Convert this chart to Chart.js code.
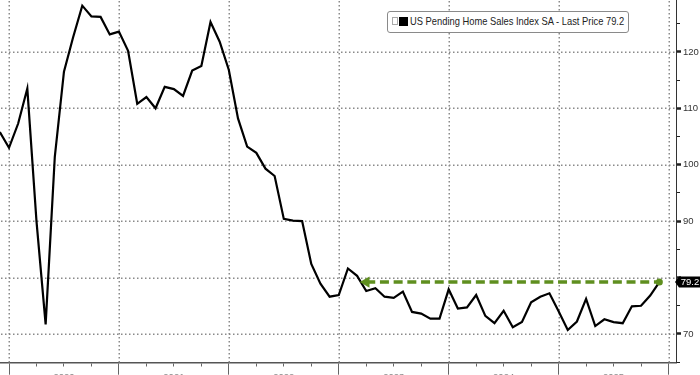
<!DOCTYPE html>
<html lang="en">
<head>
<meta charset="UTF-8">
<title>US Pending Home Sales Index</title>
<script src="https://cdn.jsdelivr.net/npm/chart.js"></script>
<style>
  html, body { margin: 0; padding: 0; background: #fff; }
  #wrap { position: relative; width: 700px; height: 375px; overflow: hidden; }
  #chart { display: block; }
  #legend {
    position: absolute; left: 387px; top: 11px; width: 240px; height: 20px;
    border: 1px solid #8a8a8a; border-radius: 3px; background: #fff;
    font-family: "Liberation Sans", Arial, sans-serif; font-size: 11px; color: #222;
    white-space: nowrap;
  }
  #legend .mini { position: absolute; left: 4px; top: 5px; width: 4px; height: 6px; border: 1px solid #aaa; }
  #legend .swatch { position: absolute; left: 11px; top: 5px; width: 9px; height: 9px; background: #000; }
  #legend .txt { position: absolute; left: 22px; top: 3px; transform: scaleX(0.85); transform-origin: left center; }
</style>
</head>
<body>
<div id="wrap">
  <canvas id="chart" width="700" height="375"></canvas>
  <div id="legend"><span class="mini"></span><span class="swatch"></span><span class="txt" id="legendText"></span></div>
</div>
<script>
    // monthly index values, Nov 2019 .. Nov 2025
    const months = [
        '2019-11', '2019-12',
        '2020-01', '2020-02', '2020-03', '2020-04', '2020-05', '2020-06', '2020-07', '2020-08', '2020-09', '2020-10', '2020-11', '2020-12',
        '2021-01', '2021-02', '2021-03', '2021-04', '2021-05', '2021-06', '2021-07', '2021-08', '2021-09', '2021-10', '2021-11', '2021-12',
        '2022-01', '2022-02', '2022-03', '2022-04', '2022-05', '2022-06', '2022-07', '2022-08', '2022-09', '2022-10', '2022-11', '2022-12',
        '2023-01', '2023-02', '2023-03', '2023-04', '2023-05', '2023-06', '2023-07', '2023-08', '2023-09', '2023-10', '2023-11', '2023-12',
        '2024-01', '2024-02', '2024-03', '2024-04', '2024-05', '2024-06', '2024-07', '2024-08', '2024-09', '2024-10', '2024-11', '2024-12',
        '2025-01', '2025-02', '2025-03', '2025-04', '2025-05', '2025-06', '2025-07', '2025-08', '2025-09', '2025-10', '2025-11'
    ];
    const pendingSales = [
        105.8, 103.0,
        107.3, 113.5, 90.0, 71.7, 101.4, 116.5, 122.6, 128.2, 126.3, 126.2, 123.1, 123.6,
        120.2, 110.8, 112.0, 110.0, 113.8, 113.4, 112.2, 116.7, 117.5, 125.3, 121.8, 116.8,
        108.2, 103.2, 102.1, 99.3, 98.0, 90.4, 90.1, 90.0, 82.4, 78.9, 76.6, 76.9,
        81.6, 80.3, 77.6, 78.1, 76.6, 76.4, 77.5, 73.9, 73.6, 72.7, 72.7, 77.9,
        74.5, 74.7, 76.9, 73.2, 71.9, 74.1, 71.2, 72.1, 75.6, 76.6, 77.2, 74.0,
        70.7, 72.2, 76.2, 71.4, 72.6, 72.1, 71.9, 74.9, 75.0, 76.8, 79.2
    ];
    const yearLabels = ['2020', '2021', '2022', '2023', '2024', '2025'];
    const seriesName = 'US Pending Home Sales Index SA';
    const arrowFrom = '2023-03';
    const arrowTo = '2025-11';

    const lastPrice = pendingSales[pendingSales.length - 1];
    const green = '#5f8f1f';

    // month string -> months since Jan 1 2020, plotted at month end
    const toX = s => (parseInt(s.slice(0, 4)) - 2020) * 12 + parseInt(s.slice(5, 7));
    const series = months.map((m, i) => ({ x: toX(m), y: pendingSales[i] }));
    const arrow = [{ x: toX(arrowFrom), y: lastPrice }, { x: toX(arrowTo), y: lastPrice }];

    document.getElementById('legendText').textContent = seriesName + ' - Last Price ' + lastPrice.toFixed(1);

    const pxPerMonth = 9.16;
    const axisFont = { family: '"Liberation Sans", Arial, sans-serif', size: 9.5 };
    const isYearTick = v => v % 12 === 0;
    const isMajorY = v => v % 10 === 0;

    // dotted grid on years and every 10 index points
    const dottedGrid = {
        id: 'dottedGrid',
        beforeDatasetsDraw(chart) {
            const { ctx, chartArea: a } = chart;
            const { x, y } = chart.scales;
            ctx.save();
            ctx.fillStyle = '#8a8a8a';
            // square dots every 4px
            x.ticks.filter(t => isYearTick(t.value)).forEach(t => {
                const px = Math.round(x.getPixelForValue(t.value));
                for (let py = a.top + 1; py < a.bottom; py += 4) ctx.fillRect(px - 0.5, py, 1.5, 1.5);
            });
            y.ticks.filter(t => isMajorY(t.value)).forEach(t => {
                const py = Math.round(y.getPixelForValue(t.value));
                for (let px = a.left + 1; px < a.right; px += 4) ctx.fillRect(px, py - 0.5, 1.5, 1.5);
            });
            ctx.restore();
        }
    };

    // black price tag on the right axis
    const lastTag = {
        id: 'lastTag',
        afterDraw(chart) {
            const { ctx } = chart;
            const y = chart.scales.y;
            const py = y.getPixelForValue(lastPrice);
            const x0 = y.left;
            ctx.save();
            ctx.fillStyle = '#000';
            ctx.beginPath();
            ctx.moveTo(x0 - 1, py);
            ctx.lineTo(x0 + 3, py - 5.5);
            ctx.lineTo(chart.width, py - 5.5);
            ctx.lineTo(chart.width, py + 5.5);
            ctx.lineTo(x0 + 3, py + 5.5);
            ctx.closePath();
            ctx.fill();
            ctx.fillStyle = '#fff';
            ctx.font = '9.5px "Liberation Sans", Arial, sans-serif';
            ctx.textAlign = 'center';
            ctx.textBaseline = 'middle';
            ctx.fillText(lastPrice.toFixed(1), (x0 + 3 + chart.width) / 2 + 0.5, py + 0.5);
            ctx.restore();
        }
    };

    const ctx = document.getElementById('chart').getContext('2d');
    new Chart(ctx, {
        type: 'line',
        data: {
            datasets: [
                {
                    data: arrow,
                    borderColor: green,
                    borderWidth: 3.5,
                    borderDash: [9, 4.7],
                    pointStyle: ['triangle', 'circle'],
                    pointRadius: [6.5, 3.5],
                    pointRotation: [-90, 0],
                    pointBackgroundColor: green,
                    pointBorderWidth: 0,
                    order: 0
                },
                {
                    data: series,
                    borderColor: '#000',
                    borderWidth: 2.2,
                    pointRadius: 0,
                    tension: 0,
                    order: 1
                }
            ]
        },
        options: {
            responsive: false,
            animation: false,
            events: [],
            layout: { padding: 0, autoPadding: false },
            plugins: { legend: { display: false }, tooltip: { enabled: false } },
            scales: {
                x: {
                    type: 'linear',
                    position: 'bottom',
                    min: -9 / pxPerMonth,
                    max: 667 / pxPerMonth,
                    afterFit: s => { s.height = 12.3; s.paddingLeft = 0; s.paddingRight = 0; },
                    ticks: {
                        stepSize: 3,
                        autoSkip: false,
                        includeBounds: false,
                        maxRotation: 0,
                        padding: -3,
                        color: '#888',
                        font: axisFont,
                        callback: v => (v % 12 === 6 ? yearLabels[(v - 6) / 12] : '')
                    },
                    grid: {
                        drawOnChartArea: false,
                        tickColor: '#666',
                        tickLength: 12,
                        tickWidth: 1,
                        tickBorderDash: c => (c.tick && isYearTick(c.tick.value) ? [] : [3, 50])
                    },
                    border: { color: '#555', width: 1.5 }
                },
                y: {
                    position: 'right',
                    min: 64.9,
                    max: 129.2,
                    afterFit: s => { s.width = 24; s.paddingTop = 0; s.paddingBottom = 0; },
                    ticks: {
                        stepSize: 5,
                        autoSkip: false,
                        includeBounds: false,
                        padding: 2,
                        color: '#333',
                        font: axisFont,
                        callback: v => (isMajorY(v) && v !== 80 ? v : '')
                    },
                    grid: {
                        drawOnChartArea: false,
                        tickColor: '#222',
                        tickLength: 5,
                        tickWidth: c => (c.tick && isMajorY(c.tick.value) ? 2.5 : 1),
                        tickBorderDash: c => (c.tick && isMajorY(c.tick.value) ? [] : [3, 50])
                    },
                    border: { color: '#333', width: 1 }
                }
            }
        },
        plugins: [dottedGrid, lastTag]
    });
</script>
</body>
</html>
